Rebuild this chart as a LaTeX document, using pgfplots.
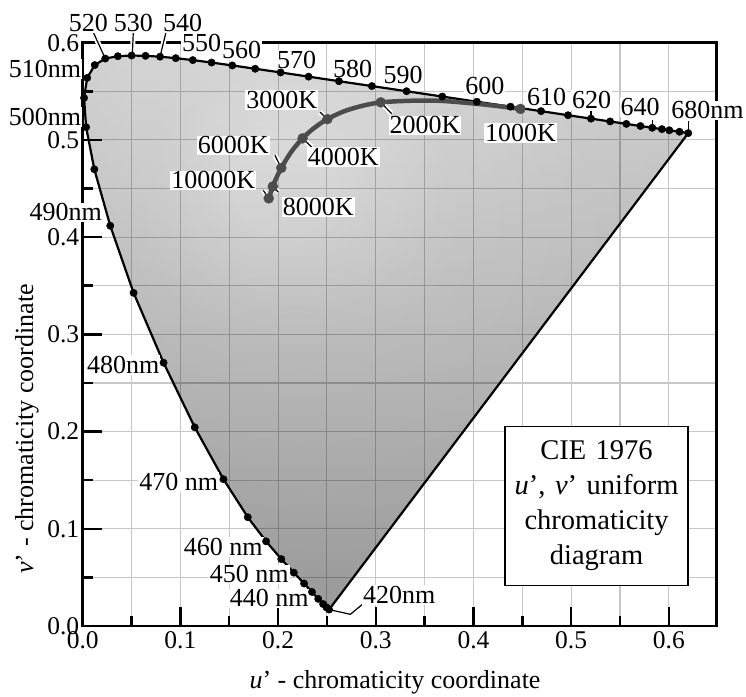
\documentclass[border=0pt]{standalone}
\usepackage{fontspec}
\setmainfont{Liberation Serif}
\usepackage{pgfplots}
\pgfplotsset{compat=1.18}

\pgfdeclareradialshading{glow}{\pgfpoint{-9bp}{14bp}}{%
 color(0bp)=(white); color(4bp)=(white); color(13bp)=(black!5);
 color(26bp)=(black!8); color(60bp)=(black!9)}

\tikzset{lab/.style={fill=white, inner sep=1pt, font=\fontsize{26}{30}\selectfont}}

\pgfplotstableread{
u v
0.2522 0.0169
0.2496 0.0191
0.2461 0.0226
0.2411 0.0279
0.2347 0.0350
0.2266 0.0437
0.2161 0.0549
0.2033 0.0688
0.1877 0.0871
0.1690 0.1119
0.1441 0.1510
0.1147 0.2044
0.0828 0.2708
0.0521 0.3427
0.0282 0.4117
0.0119 0.4698
0.0035 0.5131
0.0014 0.5432
0.0046 0.5638
0.0123 0.5770
0.0231 0.5837
0.0360 0.5861
0.0501 0.5868
0.0643 0.5865
0.0792 0.5856
0.0953 0.5841
0.1127 0.5821
0.1319 0.5796
0.1531 0.5766
0.1766 0.5732
0.2026 0.5694
0.2312 0.5651
0.2623 0.5604
0.2960 0.5554
0.3315 0.5501
0.3681 0.5446
0.4035 0.5393
0.4379 0.5342
0.4692 0.5296
0.4968 0.5254
0.5203 0.5219
0.5399 0.5190
0.5565 0.5165
0.5709 0.5143
0.5830 0.5125
0.5929 0.5111
0.6005 0.5099
0.6064 0.5090
0.6109 0.5084
0.6138 0.5079
0.6162 0.5076
0.6199 0.5070
}\locus

\pgfplotstableread{
u v
0.2522 0.0169
0.2496 0.0191
0.2461 0.0226
0.2411 0.0279
0.2347 0.0350
0.2266 0.0437
0.2161 0.0549
0.2033 0.0688
0.1877 0.0871
0.1690 0.1119
0.1441 0.1510
0.1147 0.2044
0.0828 0.2708
0.0521 0.3427
0.0282 0.4117
0.0119 0.4698
0.0035 0.5131
0.0014 0.5432
0.0046 0.5638
0.0123 0.5770
0.0231 0.5837
0.0360 0.5861
0.0501 0.5868
0.0643 0.5865
0.0792 0.5856
0.0953 0.5841
0.1127 0.5821
0.1319 0.5796
0.1531 0.5766
0.1766 0.5732
0.2026 0.5694
0.2312 0.5651
0.2623 0.5604
0.2960 0.5554
0.3315 0.5501
0.3681 0.5446
0.4035 0.5393
0.4379 0.5342
0.4692 0.5296
0.4968 0.5254
0.5203 0.5219
0.5399 0.5190
0.5565 0.5165
0.5709 0.5143
0.5830 0.5125
0.5929 0.5111
0.6005 0.5099
0.6109 0.5084
0.6199 0.5070
}\locusmarks

\pgfplotstableread{
u v
0.4481 0.5319
0.4060 0.5369
0.3579 0.5405
0.3051 0.5386
0.2722 0.5311
0.2505 0.5214
0.2357 0.5113
0.2251 0.5016
0.2173 0.4927
0.2114 0.4847
0.2033 0.4712
0.1981 0.4606
0.1946 0.4521
0.1904 0.4399
}\planck

\pgfplotstableread{
u v
0.4481 0.5319
0.3051 0.5386
0.2505 0.5214
0.2251 0.5016
0.2033 0.4712
0.1946 0.4521
0.1904 0.4399
}\planckmarks

\begin{document}
\begin{tikzpicture}
\useasboundingbox (-82.7pt,-70pt) rectangle (663.3pt,626pt);
\begin{axis}[
  at={(0pt,0pt)}, anchor=south west,
  scale only axis, width=634pt, height=583.3pt,
  xmin=0, xmax=0.649, ymin=0, ymax=0.6,
  clip=false,
  xtick={0,0.1,0.2,0.3,0.4,0.5,0.6},
  ytick={0,0.1,0.2,0.3,0.4,0.5,0.6},
  minor x tick num=1, minor y tick num=1,
  grid=both,
  major grid style={black!22, line width=1.1pt},
  minor grid style={black!22, line width=1.1pt},
  tick align=inside, xtick pos=left, ytick pos=left,
  major tick length=19pt, minor tick length=10pt,
  tick style={black, line width=2.5pt},
  axis line style={line width=2.5pt},
  xticklabel={\pgfmathprintnumber[fixed,fixed zerofill,precision=1,assume math mode=true]{\tick}},
  yticklabel={\pgfmathprintnumber[fixed,fixed zerofill,precision=1,assume math mode=true]{\tick}},
  tick label style={font=\fontsize{25.5}{30}\selectfont},
  xticklabel style={yshift=-2pt},
  xlabel={\textit{u}' - chromaticity coordinate},
  ylabel={\textit{v}' - chromaticity coordinate},
  xlabel style={at={(axis description cs:0.4926,-0.096)}, anchor=center, font=\fontsize{26}{30}\selectfont},
  ylabel style={at={(axis description cs:-0.088,0.338)}, anchor=center, font=\fontsize{26}{30}\selectfont},
]
% filled gamut: vertical gradient and a light glow round the white point, multiplied over the grid
\addplot[draw=none, top color=black!11, bottom color=black!34, blend mode=multiply] table[x=u,y=v] {\locus} -- cycle;
\addplot[draw=none, shading=glow, blend mode=multiply] table[x=u,y=v] {\locus} -- cycle;
% spectral locus and purple line
\addplot[black, line width=2.2pt, line join=round, no marks] table[x=u,y=v] {\locus} -- cycle;
% Planckian locus
\addplot[black!70, line width=4.5pt, smooth, no marks] table[x=u,y=v] {\planck};

% leader lines
\foreach \a/\b/\c/\d in {0.0108/0.6108/0.0231/0.5837, 0.0518/0.611/0.0508/0.5868, 0.0853/0.611/0.0792/0.5856,
   0.5203/0.530/0.5203/0.5219, 0.5830/0.520/0.5830/0.5125, 0.6199/0.519/0.6199/0.5070,
   0.2429/0.5286/0.2505/0.5214, 0.1968/0.4841/0.2033/0.4712, 0.1849/0.4481/0.1904/0.4399,
   0.2002/0.4464/0.1946/0.4521, 0.2344/0.4926/0.2251/0.5016, 0.3163/0.5269/0.3051/0.5386}{
  \edef\tmp{\noexpand\draw[white, line width=5pt] (axis cs:\a,\b) -- (axis cs:\c,\d);
  \noexpand\draw[black, line width=1.2pt] (axis cs:\a,\b) -- (axis cs:\c,\d);}\tmp
}
\draw[black, line width=1.2pt] (axis cs:0.2522,0.0169) -- (axis cs:0.274,0.012) -- (axis cs:0.286,0.022);

% marks
\addplot[only marks, mark=*, mark size=3.7pt, black] table[x=u,y=v] {\locusmarks};
\addplot[only marks, mark=*, mark size=5pt, black!70, mark options={fill=black!70, draw=black!70}] table[x=u,y=v] {\planckmarks};

% wavelength labels
\node[lab] at (axis cs:0.0057,0.620) {520};
\node[lab] at (axis cs:0.0518,0.620) {530};
\node[lab] at (axis cs:0.1024,0.620) {540};
\node[lab] at (axis cs:0.1218,0.5995) {550};
\node[lab] at (axis cs:0.1627,0.592) {560};
\node[lab] at (axis cs:0.219,0.5826) {570};
\node[lab] at (axis cs:0.2764,0.5732) {580};
\node[lab] at (axis cs:0.3281,0.5663) {590};
\node[lab] at (axis cs:0.4118,0.555) {600};
\node[lab] at (axis cs:0.4749,0.544) {610};
\node[lab] at (axis cs:0.521,0.541) {620};
\node[lab] at (axis cs:0.5705,0.5337) {640};
\node[lab] at (axis cs:0.6395,0.5303) {680nm};
\node[lab] at (axis cs:-0.0386,0.5732) {510nm};
\node[lab] at (axis cs:-0.0386,0.5235) {500nm};
\node[lab] at (axis cs:-0.0174,0.4255) {490nm};
\node[lab] at (axis cs:0.0416,0.2683) {480nm};
\node[lab] at (axis cs:0.0984,0.1483) {470 nm};
\node[lab] at (axis cs:0.1439,0.0815) {460 nm};
\node[lab] at (axis cs:0.1704,0.0530) {450 nm};
\node[lab] at (axis cs:0.1909,0.0285) {440 nm};
\node[lab] at (axis cs:0.324,0.0319) {420nm};
% temperature labels
\node[lab] at (axis cs:0.2037,0.5413) {3000K};
\node[lab] at (axis cs:0.1541,0.4943) {6000K};
\node[lab] at (axis cs:0.1337,0.4584) {10000K};
\node[lab] at (axis cs:0.2411,0.4309) {8000K};
\node[lab] at (axis cs:0.2667,0.4823) {4000K};
\node[lab] at (axis cs:0.3504,0.5149) {2000K};
\node[lab] at (axis cs:0.4482,0.507) {1000K};
% title box
\node[draw=black, line width=1.2pt, fill=white, text width=175pt, align=center,
      minimum height=159pt, inner sep=4pt, font=\fontsize{28.5}{35}\selectfont]
  at (axis cs:0.526,0.1238) {CIE 1976\\ \textit{u}', \textit{v}' uniform\\ chromaticity\\ diagram};
\end{axis}
\end{tikzpicture}
\end{document}
